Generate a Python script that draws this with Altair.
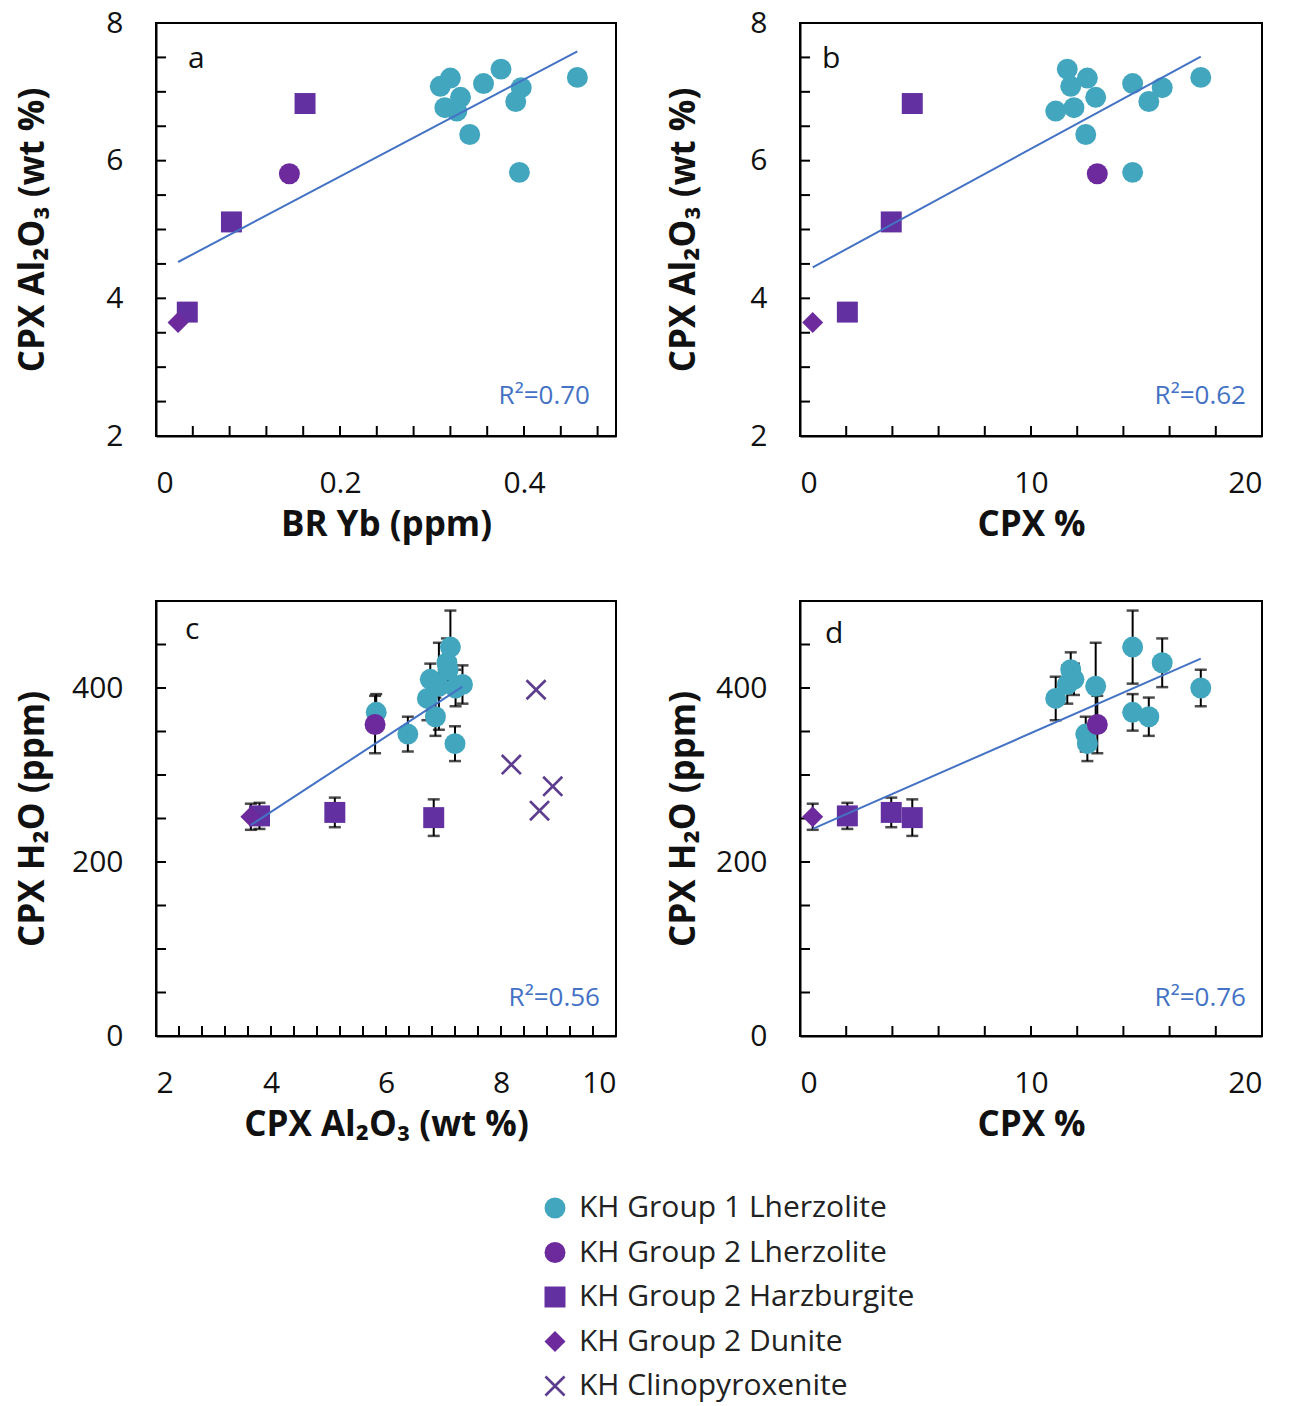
import altair as alt
import pandas as pd

# ---- legend categories and their styling ----
groups = [
    "KH Group 1 Lherzolite",
    "KH Group 2 Lherzolite",
    "KH Group 2 Harzburgite",
    "KH Group 2 Dunite",
    "KH Clinopyroxenite",
]
X_PATH = ("M-1,-0.82L-0.82,-1L0,-0.18L0.82,-1L1,-0.82L0.18,0L1,0.82L0.82,1"
          "L0,0.18L-0.82,1L-1,0.82L-0.18,0Z")
group_colors = ["#43a6bf", "#6c2a9c", "#6230a0", "#6c2a9c", "#5d3d8e"]
group_shapes = ["circle", "circle", "square", "diamond", X_PATH]
group_sizes = [440, 440, 520, 230, 600]

# ---- sample data ----
sample_group = (
    ["KH Group 1 Lherzolite"] * 12
    + ["KH Group 2 Lherzolite"]
    + ["KH Group 2 Harzburgite"] * 3
    + ["KH Group 2 Dunite"]
    + ["KH Clinopyroxenite"] * 4
)
br_yb = [0.375, 0.309, 0.320, 0.331, 0.327, 0.314, 0.341, 0.356, 0.397, 0.391, 0.458, 0.395,
         0.145,
         0.162, 0.082, 0.034,
         0.024,
         None, None, None, None]
cpx_pct = [11.57, 11.72, 12.44, 12.80, 11.07, 11.86, 12.37, 14.40, 15.68, 15.10, 17.35, 14.40,
           12.87,
           4.86, 3.95, 2.05,
           0.55,
           None, None, None, None]
cpx_al2o3 = [7.33, 7.08, 7.20, 6.92, 6.72, 6.77, 6.38, 7.12, 7.06, 6.86, 7.21, 5.83,
             5.81,
             6.83, 5.11, 3.80,
             3.65,
             8.61, 8.18, 8.90, 8.67]
cpx_h2o = [404, 421, 336, 402, 388, 410, 347, 447, 429, 367, 400, 372,
           358,
           251, 257, 253,
           252,
           398, 312, 287, 259]
h2o_err = [22, 20, 20, 50, 25, 18, 20, 42, 28, 22, 21, 21,
           33,
           21, 17, 15,
           15,
           None, None, None, None]

df = pd.DataFrame({
    "group": sample_group,
    "yb": br_yb,
    "cpx": cpx_pct,
    "al": cpx_al2o3,
    "h2o": cpx_h2o,
    "err": h2o_err,
})
df["lo"] = df["h2o"] - df["err"]
df["hi"] = df["h2o"] + df["err"]

FONT = "Open Sans"
LINE_BLUE = "#4472C4"

color_enc = alt.Color("group:N", scale=alt.Scale(domain=groups, range=group_colors),
                      legend=alt.Legend(title=None))
shape_enc = alt.Shape("group:N", scale=alt.Scale(domain=groups, range=group_shapes),
                      legend=alt.Legend(title=None))
size_enc = alt.Size("group:N", scale=alt.Scale(domain=groups, range=group_sizes), legend=None)


def panel(xf, yf, xdom, ydom, w, h, xlabels, ylabels, xfmt, xminor, yminor,
          xtitle, ytitle, letter, letter_pos, r2, r2_pos, with_err, ytitle_pad):
    xs = alt.Scale(domain=xdom, nice=False, zero=False)
    ys = alt.Scale(domain=ydom, nice=False, zero=False)
    # every layer carries the identical axis so that the layered axes merge
    xaxis = alt.Axis(values=xlabels, format=xfmt, title=xtitle, labelPadding=32,
                     titlePadding=9)
    yaxis = alt.Axis(values=ylabels, format="d", title=ytitle, labelPadding=33,
                     titlePadding=ytitle_pad)

    def X(field):
        return alt.X(field, type="quantitative", scale=xs, axis=xaxis)

    def Y(field):
        return alt.Y(field, type="quantitative", scale=ys, axis=yaxis)

    base = alt.Chart(df).transform_filter(
        f"isValid(datum.{xf}) && isValid(datum.{yf})")

    layers = []
    # inward minor tick marks along the bottom and left edges
    layers.append(alt.Chart(pd.DataFrame({"v": xminor})).mark_rule(
        color="black", strokeWidth=2).encode(
        x=X("v"), y=alt.value(h), y2=alt.value(h - 10)))
    layers.append(alt.Chart(pd.DataFrame({"v": yminor})).mark_rule(
        color="black", strokeWidth=2).encode(
        y=Y("v"), x=alt.value(0), x2=alt.value(10)))

    if with_err:
        eb = base.transform_filter("isValid(datum.err)")
        layers.append(eb.mark_rule(color="black", strokeWidth=2).encode(
            x=X(xf), y=Y("lo"), y2="hi:Q"))
        for f in ("lo", "hi"):
            layers.append(eb.mark_tick(color="black", orient="horizontal", size=12,
                                       thickness=2.5).encode(x=X(xf), y=Y(f)))

    layers.append(base.mark_point(filled=True, opacity=1).encode(
        x=X(xf), y=Y(yf), color=color_enc, shape=shape_enc, size=size_enc))

    # least-squares trend through the peridotite samples
    layers.append(base.transform_filter("datum.group != 'KH Clinopyroxenite'")
                  .transform_regression(xf, yf)
                  .mark_line(color=LINE_BLUE, strokeWidth=2).encode(x=X(xf), y=Y(yf)))

    one = pd.DataFrame({"k": [0]})
    layers.append(alt.Chart(one).mark_text(font=FONT, fontSize=30, color="#111111",
                                           align="left", baseline="alphabetic").encode(
        x=alt.value(letter_pos[0]), y=alt.value(letter_pos[1]), text=alt.value(letter)))
    layers.append(alt.Chart(one).mark_text(font=FONT, fontSize=26, color=LINE_BLUE,
                                           align="right", baseline="alphabetic").encode(
        x=alt.value(r2_pos[0]), y=alt.value(r2_pos[1]), text=alt.value(r2)))

    return alt.layer(*layers).properties(width=w, height=h)


al_ticks = [2.5, 3, 3.5, 4, 4.5, 5, 5.5, 6, 6.5, 7, 7.5]
h2o_ticks = [50, 100, 150, 200, 250, 300, 350, 400, 450]
cpx_ticks = [2, 4, 6, 8, 10, 12, 14, 16, 18]

pa = panel("yb", "al", [0, 0.5], [2, 8], 460, 413, [0, 0.2, 0.4], [2, 4, 6, 8], ".1~f",
           [round(0.04 * i, 2) for i in range(1, 13)], al_ticks,
           "BR Yb (ppm)", "CPX Al₂O₃ (wt %)", "a", (32, 45), "R²=0.70", (434, 381),
           False, 55)
pb = panel("cpx", "al", [0, 20], [2, 8], 462, 413, [0, 10, 20], [2, 4, 6, 8], "d",
           cpx_ticks, al_ticks,
           "CPX %", "CPX Al₂O₃ (wt %)", "b", (22, 45), "R²=0.62", (446, 381),
           False, 48)
pc = panel("al", "h2o", [2, 10], [0, 500], 460, 435, [2, 4, 6, 8, 10], [0, 200, 400], "d",
           [round(2 + 0.4 * i, 1) for i in range(1, 20)], h2o_ticks,
           "CPX Al₂O₃ (wt %)", "CPX H₂O (ppm)", "c", (29, 38), "R²=0.56", (444, 405),
           True, 21)
pd_ = panel("cpx", "h2o", [0, 20], [0, 500], 462, 435, [0, 10, 20], [0, 200, 400], "d",
            cpx_ticks, h2o_ticks,
            "CPX %", "CPX H₂O (ppm)", "d", (25, 42), "R²=0.76", (446, 405),
            True, 14)

chart = alt.concat(pa, pb, pc, pd_, columns=2, spacing={"row": 165, "column": 184},
                   bounds="flush").configure(
    font=FONT,
    padding={"left": 14, "top": 7, "right": 8, "bottom": 5},
).configure_view(
    stroke="black", strokeWidth=2,
).configure_axis(
    domainColor="black", domainWidth=2, ticks=False, tickSize=0, grid=False,
    labelFont=FONT, labelFontSize=30, labelColor="#111111",
    titleFont=FONT, titleFontSize=35, titleFontWeight="bold", titleColor="#111111",
).configure_legend(
    orient="none", legendX=384, legendY=1170,
    labelFont=FONT, labelFontSize=30, labelColor="#222222", labelLimit=500,
    symbolSize=330, rowPadding=14.5, symbolStrokeWidth=0, labelOffset=9,
)

chart.save("out.html", embed_options={"renderer": "svg", "actions": False})
